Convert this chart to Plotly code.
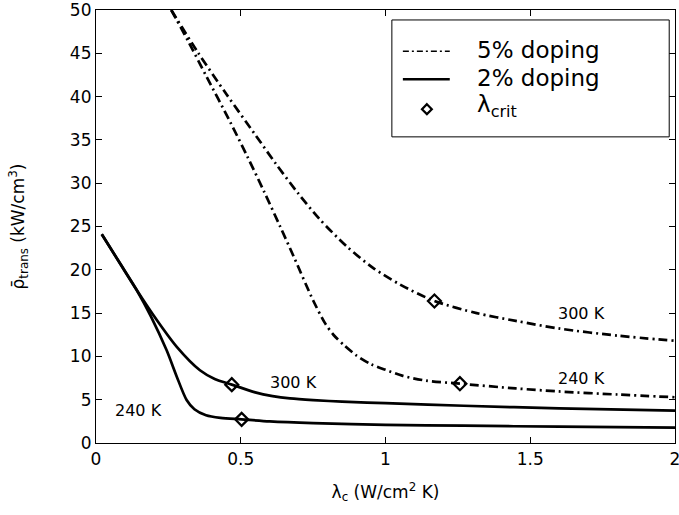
import plotly.graph_objects as go

# 2% doping, 240 K (solid)
x_2p_240 = [0.02, 0.08, 0.14, 0.19, 0.244, 0.279, 0.313, 0.34, 0.38, 0.43, 0.503, 0.6, 0.75, 1.0, 1.27, 1.6, 2.0]
y_2p_240 = [24.1, 20.9, 17.7, 14.6, 10.7, 7.66, 4.97, 3.9, 3.2, 2.9, 2.73, 2.5, 2.3, 2.1, 2.0, 1.88, 1.77]

# 2% doping, 300 K (solid)
x_2p_300 = [0.02, 0.08, 0.14, 0.21, 0.279, 0.359, 0.41, 0.469, 0.55, 0.61, 0.67, 0.75, 0.85, 1.0, 1.27, 1.6, 2.0]
y_2p_300 = [24.1, 20.9, 17.7, 14.2, 11.1, 8.4, 7.4, 6.74, 5.85, 5.42, 5.15, 4.95, 4.78, 4.6, 4.3, 4.0, 3.75]

# 5% doping, 240 K (dash-dot)
x_5p_240 = [0.26, 0.32, 0.382, 0.463, 0.524, 0.581, 0.636, 0.682, 0.751, 0.79, 0.82, 0.86, 0.9, 0.95, 1.0,
            1.06, 1.14, 1.257, 1.45, 1.6, 1.8, 2.0]
y_5p_240 = [50.0, 46.3, 42.3, 37.1, 33.0, 29.0, 25.0, 21.6, 16.4, 13.9, 12.5, 11.2, 10.1, 9.1, 8.45,
            7.75, 7.2, 6.85, 6.3, 5.95, 5.6, 5.28]

# 5% doping, 300 K (dash-dot)
x_5p_300 = [0.26, 0.35, 0.45, 0.55, 0.62, 0.699, 0.771, 0.866, 0.958, 1.05, 1.169, 1.315, 1.45, 1.603, 1.8, 2.0]
y_5p_300 = [50.0, 45.2, 40.3, 35.6, 32.3, 28.8, 25.9, 22.7, 20.2, 18.3, 16.4, 15.0, 14.1, 13.2, 12.4, 11.8]

# critical points (lambda_crit)
x_crit = [0.469, 0.503, 1.169, 1.257]
y_crit = [6.74, 2.73, 16.4, 6.85]

# curve labels
label_text = ["300 K", "240 K", "300 K", "240 K"]
label_x = [1.678, 1.678, 0.682, 0.146]
label_y = [14.98, 7.47, 6.97, 3.76]

x_ticks = [0, 0.5, 1, 1.5, 2]
x_ticklabels = ["0", "0.5", "1", "1.5", "2"]
y_ticks = list(range(0, 51, 5))

FONT = "DejaVu Sans, Verdana, sans-serif"
DASHDOT = "9px,4px,2px,4px"

fig = go.Figure()
line_kw = dict(shape="spline", smoothing=0.8, color="black")
fig.add_trace(go.Scatter(x=x_5p_300, y=y_5p_300, mode="lines", name="5% doping",
                         line=dict(width=2.7, dash=DASHDOT, **line_kw), showlegend=False))
fig.add_trace(go.Scatter(x=x_5p_240, y=y_5p_240, mode="lines", name="5% doping (240 K)",
                         line=dict(width=2.7, dash=DASHDOT, **line_kw), showlegend=False))
fig.add_trace(go.Scatter(x=x_2p_300, y=y_2p_300, mode="lines", name="2% doping",
                         line=dict(width=2.7, **line_kw), showlegend=False))
fig.add_trace(go.Scatter(x=x_2p_240, y=y_2p_240, mode="lines", name="2% doping (240 K)",
                         line=dict(width=2.7, **line_kw), showlegend=False))
fig.add_trace(go.Scatter(x=x_crit, y=y_crit, mode="markers", name="λ<sub>crit</sub>",
                         marker=dict(symbol="diamond-open", size=10, color="black",
                                     line=dict(width=2.2, color="black")), showlegend=False))

for t, lx, ly in zip(label_text, label_x, label_y):
    fig.add_annotation(x=lx, y=ly, text=t, showarrow=False, xref="x", yref="y",
                       font=dict(family=FONT, size=16, color="black"))

# manual legend (paper coordinates)
fig.add_shape(type="rect", xref="paper", yref="paper", x0=0.511, x1=0.990, y0=0.707, y1=0.977,
              line=dict(color="black", width=1), fillcolor="white", layer="above")
fig.add_shape(type="line", xref="paper", yref="paper", x0=0.530, x1=0.611, y0=0.905, y1=0.905,
              line=dict(color="black", width=1.5, dash="6px,3px,2px,3px"), layer="above")
fig.add_shape(type="line", xref="paper", yref="paper", x0=0.530, x1=0.611, y0=0.840, y1=0.840,
              line=dict(color="black", width=2.4), layer="above")
cx, cy, dx, dy = 0.5715, 0.771, 0.0085, 0.0115
fig.add_shape(type="path", xref="paper", yref="paper",
              path=f"M {cx},{cy+dy} L {cx+dx},{cy} L {cx},{cy-dy} L {cx-dx},{cy} Z",
              line=dict(color="black", width=2.2), layer="above")
legend_entries = [("5% doping", 0.907), ("2% doping", 0.842), ("λ<sub>crit</sub>", 0.779)]
for txt, ty in legend_entries:
    fig.add_annotation(x=0.655, y=ty, xref="paper", yref="paper", text=txt, showarrow=False,
                       xanchor="left", yanchor="middle", font=dict(family=FONT, size=23, color="black"))

axis_common = dict(showline=True, linecolor="black", linewidth=1.2, mirror="ticks",
                   ticks="inside", ticklen=6, tickwidth=1, tickcolor="black",
                   showgrid=False, zeroline=False, automargin=False,
                   ticklabeloverflow="allow",
                   tickfont=dict(family=FONT, size=17, color="black"))

fig.update_xaxes(range=[0, 2], tickvals=x_ticks, ticktext=x_ticklabels,
                 title=dict(text="λ<sub>c</sub> (W/cm<sup>2</sup> K)",
                            font=dict(family=FONT, size=17, color="black"), standoff=18),
                 **axis_common)
fig.update_yaxes(range=[0, 50], tickvals=y_ticks,
                 title=dict(text="ρ\u0304<sub>trans</sub> (kW/cm<sup>3</sup>)",
                            font=dict(family=FONT, size=17, color="black"), standoff=40),
                 **axis_common)

fig.update_layout(width=679, height=515, margin=dict(l=96, r=4, t=10, b=72),
                  plot_bgcolor="white", paper_bgcolor="white",
                  font=dict(family=FONT, color="black"), showlegend=False)

# remove the default 8px page margin so the figure sits at the window's top-left corner
fig.write_html("out.html", config={"displayModeBar": False},
               post_script="document.body.style.margin='0px';")
